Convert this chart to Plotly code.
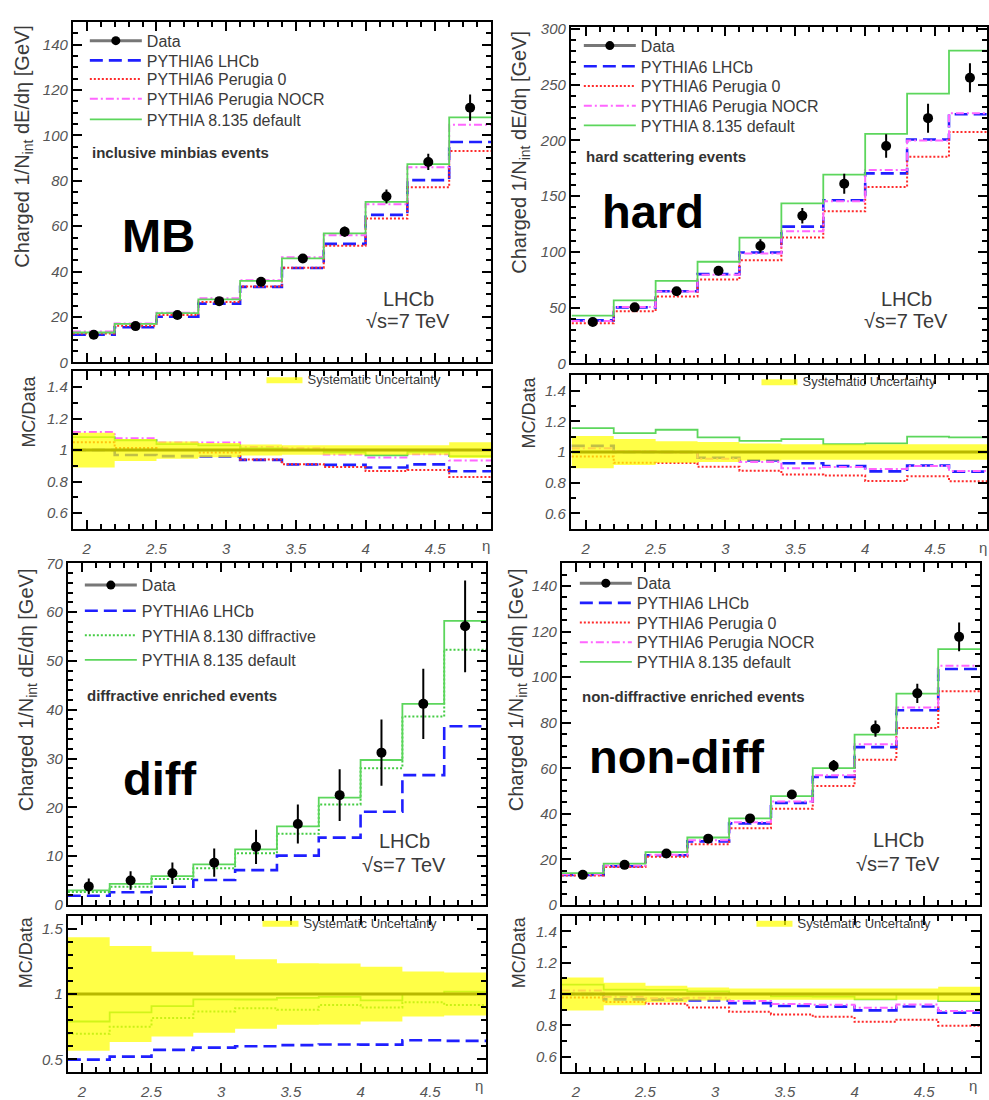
import plotly.graph_objects as go

# ---------------------------------------------------------------------------
# Charged energy flow dE/deta vs pseudorapidity, LHCb sqrt(s)=7 TeV
# ---------------------------------------------------------------------------
eta_edges = [1.9, 2.2, 2.5, 2.8, 3.1, 3.4, 3.7, 4.0, 4.3, 4.6, 4.9]
eta_centers = [2.05, 2.35, 2.65, 2.95, 3.25, 3.55, 3.85, 4.15, 4.45, 4.75]

# inclusive minimum bias
mb_data = [12.2, 16.0, 20.9, 27.0, 35.5, 45.8, 57.6, 73.1, 88.3, 112.2]
mb_err = [1.0, 1.1, 1.1, 1.3, 1.3, 1.5, 2.3, 3.1, 3.6, 5.8]
mb_sys = [0.11, 0.07, 0.055, 0.045, 0.035, 0.03, 0.03, 0.03, 0.03, 0.05]
mb_lhcb = [12.2, 15.5, 20.1, 25.9, 33.3, 41.6, 52.2, 65.0, 80.3, 97.1]
mb_perugia0 = [12.8, 16.2, 20.9, 26.6, 33.4, 41.7, 51.4, 63.4, 77.1, 93.1]
mb_nocr = [13.6, 17.2, 21.9, 28.3, 36.2, 46.3, 56.0, 69.7, 86.0, 104.7]
mb_py8 = [13.2, 17.0, 21.7, 27.8, 35.9, 45.8, 56.8, 70.7, 87.3, 107.9]

# hard scattering
hard_data = [37.1, 50.3, 64.7, 83.2, 105.3, 132.4, 161.2, 195.0, 220.0, 256.2]
hard_err = [3.0, 3.0, 3.5, 4.0, 6.0, 7.0, 9.0, 10.5, 13.0, 13.0]
hard_sys = [0.105, 0.085, 0.07, 0.065, 0.055, 0.05, 0.05, 0.05, 0.05, 0.05]
hard_lhcb = [38.6, 50.3, 64.7, 80.1, 99.5, 122.7, 146.4, 170.5, 200.8, 223.5]
hard_perugia0 = [36.0, 46.8, 60.1, 75.2, 92.5, 113.0, 136.5, 158.2, 185.3, 207.6]
hard_nocr = [38.0, 50.6, 64.5, 79.5, 98.5, 118.5, 145.5, 173.5, 200.0, 224.5]
hard_py8 = [42.9, 56.5, 74.1, 91.2, 112.9, 143.5, 169.4, 205.9, 242.0, 280.6]

# diffractive enriched
diff_data = [3.8, 5.0, 6.5, 8.65, 11.9, 16.6, 22.5, 31.2, 41.2, 57.1]
diff_err = [1.6, 1.9, 2.2, 2.9, 3.5, 4.0, 5.3, 6.8, 7.2, 9.4]
diff_sys = [0.435, 0.368, 0.325, 0.297, 0.266, 0.236, 0.234, 0.21, 0.173, 0.165]
diff_lhcb = [1.89, 2.6, 3.72, 5.1, 7.14, 10.1, 13.8, 19.1, 26.6, 36.6]
diff_py8_diffr = [2.64, 3.75, 5.3, 7.5, 10.6, 14.6, 20.6, 28.0, 38.6, 52.3]
diff_py8 = [3.0, 4.3, 5.9, 8.3, 11.4, 16.1, 22.0, 29.7, 41.2, 58.2]

# non-diffractive enriched
nd_data = [13.2, 17.6, 22.6, 29.1, 38.0, 48.5, 61.1, 77.4, 92.9, 117.7]
nd_err = [1.2, 1.2, 1.3, 1.4, 1.5, 1.8, 2.5, 3.6, 4.2, 6.3]
nd_sys = [0.105, 0.072, 0.053, 0.042, 0.036, 0.036, 0.036, 0.036, 0.036, 0.046]
nd_lhcb = [13.2, 17.0, 21.8, 27.9, 35.8, 44.8, 56.2, 69.3, 85.5, 103.6]
nd_perugia0 = [12.9, 16.7, 21.2, 26.6, 33.7, 42.2, 52.2, 63.7, 77.7, 93.8]
nd_nocr = [13.5, 17.3, 22.0, 28.4, 36.3, 45.4, 56.9, 70.6, 86.7, 105.0]
nd_py8 = [14.0, 18.1, 23.2, 29.6, 38.0, 47.8, 60.1, 74.8, 92.8, 112.3]

W, H = 989, 1100
FONT = "Liberation Sans, Arial, sans-serif"
TXT = "#3a3a3a"


def fx(px):
    return px / W


def fy(py):
    return 1 - py / H


STY = {
    "lhcb": dict(name="PYTHIA6 LHCb", color="#1f1fff", width=2.6, dash="13px,6px"),
    "p0": dict(name="PYTHIA6 Perugia 0", color="#ff2a2a", width=2.0, dash="2px,2px"),
    "nocr": dict(name="PYTHIA6 Perugia NOCR", color="#ff66ff", width=2.0, dash="8px,3px,2px,3px"),
    "diffr": dict(name="PYTHIA 8.130 diffractive", color="#44cc44", width=2.0, dash="2px,2px"),
    "py8": dict(name="PYTHIA 8.135 default", color="#5cd65c", width=1.8, dash="solid"),
}

panels = [
    dict(tag="MB", label="inclusive minbias events",
         data=mb_data, err=mb_err, sys=mb_sys,
         mc=[("lhcb", mb_lhcb), ("p0", mb_perugia0), ("nocr", mb_nocr), ("py8", mb_py8)],
         xpx=(73, 492), mainpx=(13, 359), ratiopx=(368, 528), xr=[1.9, 4.9],
         yr=[0, 150], ydt=20, ymin=5, rr=[0.5, 1.5], rdt=0.2, rmin=0.1,
         legx=90, rows=[41, 61, 80, 100, 121], laby=146,
         word=(159, 230), lhcb=(409, 295, 317),
         ytitle=(24, 139), rtitle=(29, 409), sleg=(267, 380), eta=(487, 545), stand=5),
    dict(tag="hard", label="hard scattering events",
         data=hard_data, err=hard_err, sys=hard_sys,
         mc=[("lhcb", hard_lhcb), ("p0", hard_perugia0), ("nocr", hard_nocr), ("py8", hard_py8)],
         xpx=(572, 989), mainpx=(18, 360), ratiopx=(372, 528), xr=[1.893, 4.872],
         yr=[0, 302], ydt=50, ymin=10, rr=[0.5, 1.5], rdt=0.2, rmin=0.1,
         legx=585, rows=[46, 67, 87, 107, 127], laby=150,
         word=(654, 206), lhcb=(908, 295, 317),
         ytitle=(522, 145), rtitle=(530, 410), sleg=(763, 382), eta=(985, 547), stand=5),
    dict(tag="diff", label="diffractive enriched events",
         data=diff_data, err=diff_err, sys=diff_sys,
         mc=[("lhcb", diff_lhcb), ("diffr", diff_py8_diffr), ("py8", diff_py8)],
         xpx=(68, 487), mainpx=(563, 910), ratiopx=(921, 1080), xr=[1.9, 4.9],
         yr=[0, 70], ydt=10, ymin=2, rr=[0.4, 1.6], rdt=0.5, rmin=0.1,
         legx=85, rows=[594, 620, 645, 670], laby=697,
         word=(160, 782), lhcb=(405, 845, 869),
         ytitle=(27, 691), rtitle=(26, 958), sleg=(263, 932), eta=(480, 1093), stand=5),
    dict(tag="non-diff", label="non-diffractive enriched events",
         data=nd_data, err=nd_err, sys=nd_sys,
         mc=[("lhcb", nd_lhcb), ("p0", nd_perugia0), ("nocr", nd_nocr), ("py8", nd_py8)],
         xpx=(563, 982), mainpx=(563, 910), ratiopx=(921, 1080), xr=[1.9, 4.9],
         yr=[0, 150], ydt=20, ymin=5, rr=[0.5, 1.5], rdt=0.2, rmin=0.1,
         legx=581, rows=[592, 612, 632, 652, 672], laby=698,
         word=(678, 759), lhcb=(900, 844, 868),
         ytitle=(518, 691), rtitle=(520, 958), sleg=(758, 932), eta=(975, 1093), stand=5),
]

fig = go.Figure()
layout = dict(
    width=W, height=H, autosize=False,
    margin=dict(l=0, r=0, t=0, b=0),
    paper_bgcolor="white", plot_bgcolor="white",
    font=dict(family=FONT, color=TXT),
    showlegend=True,
)
annotations = []
legend_count = [0]


def new_legend(x_sym, y_row, width, size, yoff):
    """One legend box per entry so every row sits at its own height."""
    legend_count[0] += 1
    n = legend_count[0]
    key = "legend" if n == 1 else f"legend{n}"
    layout[key] = dict(
        x=fx(x_sym - 5), y=fy(y_row - yoff), xanchor="left", yanchor="top",
        bgcolor="rgba(0,0,0,0)", borderwidth=0, itemwidth=width,
        font=dict(family=FONT, size=size, color=TXT))
    return key


def axis_common(rng, dt, tick0, mdt, labels):
    return dict(
        range=rng, autorange=False, showline=True, linecolor="black", linewidth=2,
        mirror="allticks", ticks="inside", ticklen=9, tickwidth=2, tickcolor="black",
        dtick=dt, tick0=tick0, showgrid=False, zeroline=False,
        minor=dict(ticks="inside", ticklen=5, tickwidth=1.5, tickcolor="black",
                   dtick=mdt, tick0=tick0, showgrid=False),
        showticklabels=labels,
        tickfont=dict(family=FONT, size=15, color="#555555", style="italic"),
    )


def step_y(vals):
    return list(vals) + [vals[-1]]


for i, p in enumerate(panels):
    ma, ra = 2 * i + 1, 2 * i + 2
    xm, ym = ("x" if ma == 1 else f"x{ma}"), ("y" if ma == 1 else f"y{ma}")
    xr_, yr_ = f"x{ra}", f"y{ra}"

    xdom = [fx(p["xpx"][0]), min(1.0, fx(p["xpx"][1]))]
    # main panel axes
    ax = axis_common(p["xr"], 0.5, 2.0, 0.1, False)
    ax.update(domain=xdom, anchor=ym)
    layout["xaxis" if ma == 1 else f"xaxis{ma}"] = ax
    ay = axis_common(p["yr"], p["ydt"], 0, p["ymin"], True)
    ay.update(domain=[fy(p["mainpx"][1]), fy(p["mainpx"][0])], anchor=xm)
    layout["yaxis" if ma == 1 else f"yaxis{ma}"] = ay
    # ratio panel axes
    bx = axis_common(p["xr"], 0.5, 2.0, 0.1, True)
    bx.update(domain=xdom, anchor=yr_, ticklabelstandoff=p["stand"])
    layout[f"xaxis{ra}"] = bx
    by = axis_common(p["rr"], p["rdt"], 0, p["rmin"], True)
    by.update(domain=[fy(p["ratiopx"][1]), fy(p["ratiopx"][0])], anchor=xr_)
    layout[f"yaxis{ra}"] = by

    rows = p["rows"]
    lx = p["legx"]

    # legend entry for the data points
    fig.add_trace(go.Scatter(
        x=[None], y=[None], mode="lines+markers", name="Data",
        line=dict(color="#777777", width=3), marker=dict(color="black", size=9),
        xaxis=xm, yaxis=ym, legend=new_legend(lx, rows[0], 52, 16, 26)))

    # simulated histograms
    for k, (key, vals) in enumerate(p["mc"]):
        s = STY[key]
        fig.add_trace(go.Scatter(
            x=eta_edges, y=step_y(vals), mode="lines", line_shape="hv", name=s["name"],
            line=dict(color=s["color"], width=s["width"], dash=s["dash"]),
            xaxis=xm, yaxis=ym, legend=new_legend(lx, rows[k + 1], 52, 16, 26)))

    # measured points
    fig.add_trace(go.Scatter(
        x=eta_centers, y=p["data"], mode="markers", name="Data", showlegend=False,
        marker=dict(color="black", size=10),
        error_y=dict(type="data", array=p["err"], color="black", thickness=2, width=0),
        xaxis=xm, yaxis=ym))

    # ratio panel: MC / Data
    for key, vals in p["mc"]:
        s = STY[key]
        ratio = [m / d for m, d in zip(vals, p["data"])]
        fig.add_trace(go.Scatter(
            x=eta_edges, y=step_y(ratio), mode="lines", line_shape="hv", showlegend=False,
            line=dict(color=s["color"], width=s["width"], dash=s["dash"]),
            xaxis=xr_, yaxis=yr_))
    fig.add_trace(go.Scatter(
        x=[eta_edges[0], eta_edges[-1]], y=[1, 1], mode="lines", showlegend=False,
        line=dict(color="black", width=3), xaxis=xr_, yaxis=yr_))
    lo = [1 - s for s in p["sys"]]
    hi = [1 + s for s in p["sys"]]
    fig.add_trace(go.Scatter(
        x=eta_edges, y=step_y(lo), mode="lines", line_shape="hv", showlegend=False,
        line=dict(width=0, color="rgba(0,0,0,0)"), xaxis=xr_, yaxis=yr_))
    sx, sy = p["sleg"]
    fig.add_trace(go.Scatter(
        x=eta_edges, y=step_y(hi), mode="lines", line_shape="hv", fill="tonexty",
        fillcolor="rgba(255,255,0,0.72)", name="Systematic Uncertainty",
        line=dict(width=0, color="rgba(0,0,0,0)"), xaxis=xr_, yaxis=yr_,
        legend=new_legend(sx, sy, 36, 13, 19)))

    annotations.append(dict(
        x=fx(lx), y=fy(p["laby"]), xref="paper", yref="paper",
        xanchor="left", yanchor="middle", showarrow=False, text=f"<b>{p['label']}</b>",
        font=dict(family=FONT, size=15, color="#333333")))
    wx, wy = p["word"]
    annotations.append(dict(
        x=fx(wx), y=fy(wy), xref="paper", yref="paper", xanchor="center", yanchor="middle",
        showarrow=False, text=f"<b>{p['tag']}</b>",
        font=dict(family=FONT, size=47, color="black")))
    cx, l1, l2 = p["lhcb"]
    annotations.append(dict(
        x=fx(cx), y=fy(l1), xref="paper", yref="paper", xanchor="center", yanchor="middle",
        showarrow=False, text="LHCb", font=dict(family=FONT, size=20, color=TXT)))
    annotations.append(dict(
        x=fx(cx), y=fy(l2), xref="paper", yref="paper", xanchor="center", yanchor="middle",
        showarrow=False, text="√s=7 TeV", font=dict(family=FONT, size=20, color=TXT)))
    tx, ty = p["ytitle"]
    annotations.append(dict(
        x=fx(tx), y=fy(ty), xref="paper", yref="paper", xanchor="center", yanchor="middle",
        showarrow=False, textangle=-90,
        text="Charged 1/N<sub>int</sub> dE/dη [GeV]", font=dict(family=FONT, size=20, color=TXT)))
    rx, ry = p["rtitle"]
    annotations.append(dict(
        x=fx(rx), y=fy(ry), xref="paper", yref="paper", xanchor="center", yanchor="middle",
        showarrow=False, textangle=-90, text="MC/Data",
        font=dict(family=FONT, size=18, color=TXT)))
    ex, ey = p["eta"]
    annotations.append(dict(
        x=fx(ex), y=fy(ey), xref="paper", yref="paper", xanchor="center", yanchor="middle",
        showarrow=False, text="η", font=dict(family=FONT, size=15, color="#555555")))

layout["annotations"] = annotations
fig.update_layout(**layout)
fig.write_html("out.html")
